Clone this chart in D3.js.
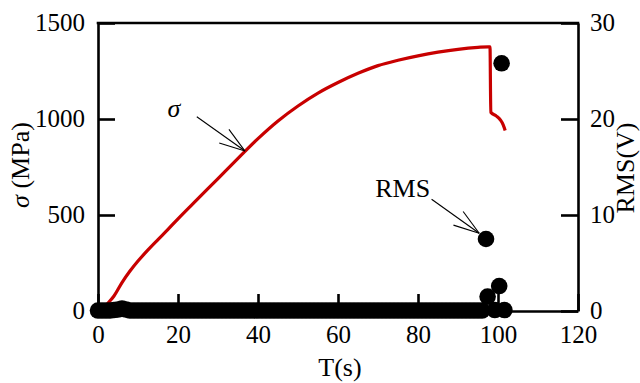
<!DOCTYPE html>
<html><head><meta charset="utf-8">
<script src="https://cdn.jsdelivr.net/npm/d3@7"></script>
<style>
html,body{margin:0;padding:0;background:#fff;overflow:hidden;}
svg{display:block;}
text{font-family:"Liberation Serif","Times New Roman",serif;fill:#000;}
</style></head>
<body>
<svg id="c" width="640" height="383"></svg>
<script>
// ---- data ----
const xTicks = [0, 20, 40, 60, 80, 100, 120];
const yLeftTicks = [0, 500, 1000, 1500];
const yRightTicks = [0, 10, 20, 30];

// stress curve sigma (MPa) vs time T (s)
const sigmaT = [0.8, 2, 4, 6, 8, 10, 12.5, 15, 17.5, 20, 25, 30, 35, 40, 45, 50, 55, 60, 65, 70, 75, 80, 85, 90, 95, 97.6, 98.0, 98.2, 99.6, 100.6, 101.3, 101.8];
const sigmaV = [0, 30, 78, 148, 208, 260, 318, 372, 425, 480, 585, 690, 795, 898, 990, 1068, 1135, 1190, 1238, 1278, 1306, 1329, 1348, 1363, 1373, 1376, 1376, 1035, 1015, 995, 970, 940];

// RMS (V) vs time T (s)
const rmsT = [0, 1, 2, 3, 4, 5, 6, 7, 8, 9, 10, 11, 12, 13, 14, 15, 16, 17, 18, 19, 20, 21, 22, 23, 24, 25, 26, 27, 28, 29, 30, 31, 32, 33, 34, 35, 36, 37, 38, 39, 40, 41, 42, 43, 44, 45, 46, 47, 48, 49, 50, 51, 52, 53, 54, 55, 56, 57, 58, 59, 60, 61, 62, 63, 64, 65, 66, 67, 68, 69, 70, 71, 72, 73, 74, 75, 76, 77, 78, 79, 80, 81, 82, 83, 84, 85, 86, 87, 88, 89, 90, 91, 92, 93, 94, 95, 96, 97, 97.4, 99.2, 100.3, 100.9, 101.6];
const rmsV = [0.05, 0.05, 0.05, 0.05, 0.1, 0.15, 0.25, 0.15, 0.05, 0.05, 0.05, 0.05, 0.05, 0.05, 0.05, 0.05, 0.05, 0.05, 0.05, 0.05, 0.05, 0.05, 0.05, 0.05, 0.05, 0.05, 0.05, 0.05, 0.05, 0.05, 0.05, 0.05, 0.05, 0.05, 0.05, 0.05, 0.05, 0.05, 0.05, 0.05, 0.05, 0.05, 0.05, 0.05, 0.05, 0.05, 0.05, 0.05, 0.05, 0.05, 0.05, 0.05, 0.05, 0.05, 0.05, 0.05, 0.05, 0.05, 0.05, 0.05, 0.05, 0.05, 0.05, 0.05, 0.05, 0.05, 0.05, 0.05, 0.05, 0.05, 0.05, 0.05, 0.05, 0.05, 0.05, 0.05, 0.05, 0.05, 0.05, 0.05, 0.05, 0.05, 0.05, 0.05, 0.05, 0.05, 0.05, 0.05, 0.05, 0.05, 0.05, 0.05, 0.05, 0.05, 0.05, 0.05, 0.05, 7.5, 1.5, 0.1, 2.6, 25.8, 0.1];

// annotations (positions in data units: T, sigma)
const notes = [
  {label: "σ", italic: true, lx: 19, ly: 1010, anchor: "middle", fx: 24.7, fy: 1012, tx: 36.75, ty: 833},
  {label: "RMS", italic: false, lx: 69.3, ly: 595, anchor: "start", fx: 83.4, fy: 582, tx: 95.3, ty: 405}
];

// ---- layout ----
const L = 98, R = 578, T = 23, B = 311;
const fs = 25;
const FONT = '"Liberation Serif","Times New Roman",serif';
const svg = d3.select("#c");
const x = d3.scaleLinear().domain([0, 120]).range([L, R]);
const yL = d3.scaleLinear().domain([0, 1500]).range([B, T]);
const yR = d3.scaleLinear().domain([0, 30]).range([B, T]);

// sigma line
svg.append("path")
  .datum(sigmaT.map((t, i) => [t, sigmaV[i]]))
  .attr("fill", "none").attr("stroke", "#c80000").attr("stroke-width", 3.2)
  .attr("stroke-linejoin", "round")
  .attr("d", d3.line().curve(d3.curveMonotoneX).x(d => x(d[0])).y(d => yL(d[1])));

// axes
function styleAxis(g) {
  g.attr("font-family", FONT).attr("font-size", fs);
  g.selectAll("path, line").attr("stroke", "#000").attr("stroke-width", 2.6);
  g.selectAll("text").style("font-size", fs + "px").attr("fill", "#000").style("font-family", FONT);
}
const gx = svg.append("g").attr("transform", `translate(0,${B})`)
  .call(d3.axisBottom(x).tickValues(xTicks).tickFormat(d3.format("d")).tickSizeInner(-17).tickSizeOuter(0).tickPadding(14));
styleAxis(gx);
gx.selectAll("text").attr("dy", "0.71em");
const gl = svg.append("g").attr("transform", `translate(${L},0)`)
  .call(d3.axisLeft(yL).tickValues(yLeftTicks).tickFormat(d3.format("d")).tickSizeInner(-17).tickSizeOuter(0).tickPadding(13));
styleAxis(gl);
gl.selectAll("text").attr("dy", "0.3em");
const gr = svg.append("g").attr("transform", `translate(${R},0)`)
  .call(d3.axisRight(yR).tickValues(yRightTicks).tickFormat(d3.format("d")).tickSizeInner(-17).tickSizeOuter(0).tickPadding(12));
styleAxis(gr);
gr.selectAll("text").attr("dy", "0.3em");
svg.append("line").attr("x1", L - 1.3).attr("x2", R + 1.3).attr("y1", T).attr("y2", T)
  .attr("stroke", "#000").attr("stroke-width", 2.6);

// axis titles
svg.append("text").attr("x", (L + R) / 2 + 2).attr("y", 376).attr("text-anchor", "middle")
  .style("font-size", "26px").text("T(s)");
const yt = svg.append("text").attr("transform", `translate(29,165) rotate(-90)`).attr("text-anchor", "middle")
  .style("font-size", "26px");
yt.append("tspan").style("font-style", "italic").text("σ");
yt.append("tspan").text(" (MPa)");
svg.append("text").attr("transform", `translate(634,168) rotate(-90)`).attr("text-anchor", "middle")
  .style("font-size", "26px").text("RMS(V)");

// annotations
notes.forEach(n => {
  svg.append("text").attr("x", x(n.lx)).attr("y", yL(n.ly)).attr("text-anchor", n.anchor)
    .style("font-size", "26px").style("font-style", n.italic ? "italic" : "normal").text(n.label);
  const x1 = x(n.fx), y1 = yL(n.fy), x2 = x(n.tx), y2 = yL(n.ty);
  const g = svg.append("g").attr("stroke", "#000").attr("stroke-width", 1.1).attr("fill", "none");
  g.append("line").attr("x1", x1).attr("y1", y1).attr("x2", x2).attr("y2", y2);
  const ang = Math.atan2(y2 - y1, x2 - x1), hl = 27, ha = 18 * Math.PI / 180;
  [ang - ha, ang + ha].forEach(a => {
    g.append("line").attr("x1", x2).attr("y1", y2)
      .attr("x2", x2 - hl * Math.cos(a)).attr("y2", y2 - hl * Math.sin(a));
  });
});

// RMS dots
svg.append("g").selectAll("circle")
  .data(rmsT.map((t, i) => [t, rmsV[i]]))
  .join("circle")
  .attr("cx", d => x(d[0])).attr("cy", d => yR(d[1]))
  .attr("r", 8.3).attr("fill", "#000");
</script>
</body></html>
